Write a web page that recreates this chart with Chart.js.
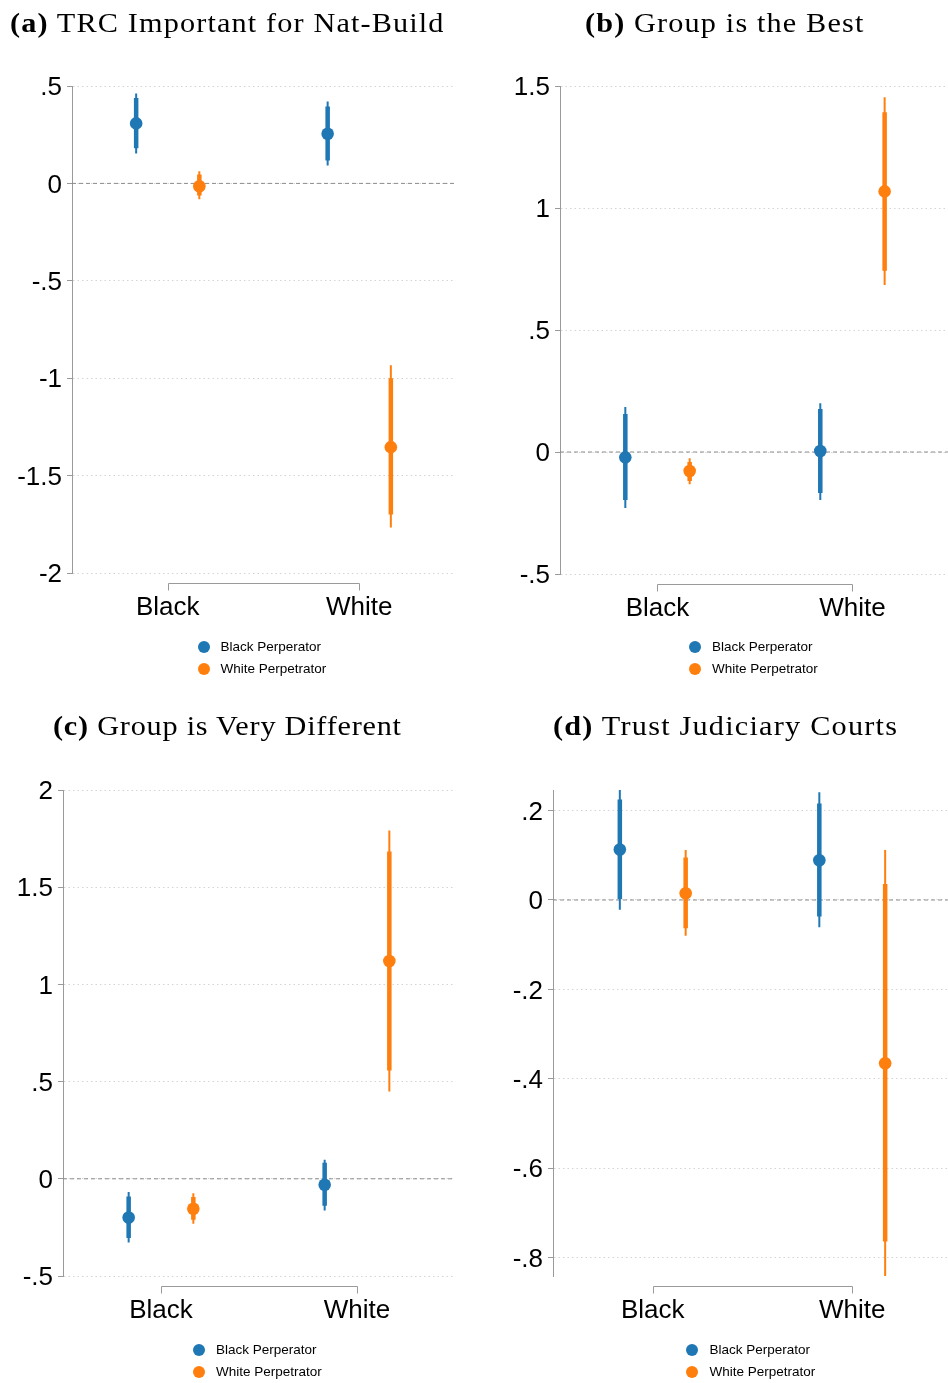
<!DOCTYPE html>
<html>
<head>
<meta charset="utf-8">
<script src="https://cdn.jsdelivr.net/npm/chart.js@4.4.1/dist/chart.umd.min.js"></script>
<style>
  html, body { margin: 0; padding: 0; background: #fff; }
  body { width: 948px; height: 1383px; position: relative; overflow: hidden; }
  canvas { position: absolute; }
  .title { position: absolute; font-family: "Liberation Serif", "Times New Roman", serif; font-size: 28px; line-height: 28px; white-space: nowrap; color: #000; transform-origin: 0 0; }
  .legend { position: absolute; font-family: "Liberation Sans", Arial, sans-serif; font-size: 13.5px; color: #000; }
  .legend div { position: relative; height: 22px; line-height: 22px; padding-left: 23px; white-space: nowrap; }
  .legend span { position: absolute; left: 0; top: 5px; width: 12px; height: 12px; border-radius: 50%; }
</style>
</head>
<body>
<script>
const groups = ['Black', 'White'];
const seriesNames = ['Black Perperator', 'White Perpetrator'];
const seriesColors = ['#1f77b4', '#ff7f0e'];
const panelLetters = ['(a)', '(b)', '(c)', '(d)'];
const panelTitles = ['TRC Important for Nat-Build', 'Group is the Best', 'Group is Very Different', 'Trust Judiciary Courts'];

// point estimates per panel, [Black, White] respondents
const estBlackPerp = [[0.308, 0.255], [-0.022, 0.004], [-0.199, -0.031], [0.113, 0.089]];
const estWhitePerp = [[-0.015, -1.354], [-0.078, 1.068], [-0.154, 1.12], [0.015, -0.365]];

// 90% intervals [lo, hi]
const ci90BlackPerp = [
  [[0.18, 0.438], [0.118, 0.395]],
  [[-0.197, 0.156], [-0.168, 0.176]],
  [[-0.305, -0.091], [-0.139, 0.082]],
  [[0.002, 0.225], [-0.037, 0.216]]
];
const ci90WhitePerp = [
  [[-0.062, 0.046], [-1.70, -1.0]],
  [[-0.119, -0.041], [0.743, 1.392]],
  [[-0.211, -0.093], [0.557, 1.684]],
  [[-0.063, 0.095], [-0.764, 0.036]]
];

// 95% intervals [lo, hi]
const ci95BlackPerp = [
  [[0.154, 0.462], [0.092, 0.421]],
  [[-0.23, 0.184], [-0.197, 0.2]],
  [[-0.328, -0.068], [-0.163, 0.098]],
  [[-0.022, 0.248], [-0.061, 0.241]]
];
const ci95WhitePerp = [
  [[-0.082, 0.063], [-1.767, -0.934]],
  [[-0.132, -0.026], [0.684, 1.454]],
  [[-0.231, -0.074], [0.449, 1.792]],
  [[-0.080, 0.112], [-0.841, 0.112]]
];

const yTicks = [
  [-2, -1.5, -1, -0.5, 0, 0.5],
  [-0.5, 0, 0.5, 1, 1.5],
  [-0.5, 0, 0.5, 1, 1.5, 2],
  [-0.8, -0.6, -0.4, -0.2, 0, 0.2]
];
const yTickLabels = [
  ['-2', '-1.5', '-1', '-.5', '0', '.5'],
  ['-.5', '0', '.5', '1', '1.5'],
  ['-.5', '0', '.5', '1', '1.5', '2'],
  ['-.8', '-.6', '-.4', '-.2', '0', '.2']
];
const yRanges = [[-2, 0.5], [-0.5, 1.5], [-0.5, 2], [-0.841, 0.246]];

// page layout: canvas box, plot area (local coords) and the x value at the right edge
const panels = [
  { left: 0, top: 0, w: 474, h: 691, plot: [72, 86, 455, 573], xMax: 2.5, titleX: 227.5, titleW: 435 },
  { left: 474, top: 0, w: 474, h: 691, plot: [86, 86, 474, 574], xMax: 2.49, titleX: 724.5, titleW: 279 },
  { left: 0, top: 703, w: 474, h: 680, plot: [63, 87, 455, 573], xMax: 2.5, titleX: 227.5, titleW: 349 },
  { left: 474, top: 703, w: 474, h: 680, plot: [79, 87, 474, 573], xMax: 2.48, titleX: 725.5, titleW: 345 }
];
const offset = 0.165;
const axisGray = '#9a9a9a';

const xBracket = {
  id: 'xBracket',
  afterDraw(chart) {
    const { ctx, chartArea, scales } = chart;
    const x1 = Math.round(scales.x.getPixelForValue(1)) + 0.5;
    const x2 = Math.round(scales.x.getPixelForValue(2)) + 0.5;
    const y = Math.round(chartArea.bottom + 10) + 0.5;
    ctx.save();
    ctx.strokeStyle = axisGray;
    ctx.lineWidth = 1;
    ctx.beginPath();
    ctx.moveTo(x1, y + 7);
    ctx.lineTo(x1, y);
    ctx.lineTo(x2, y);
    ctx.lineTo(x2, y + 7);
    ctx.stroke();
    ctx.restore();
  }
};

function ciLine(ci, dx) {
  const pts = [];
  ci.forEach((c, i) => {
    if (i > 0) pts.push({ x: i + 1 + dx, y: null });
    pts.push({ x: i + 1 + dx, y: c[0] });
    pts.push({ x: i + 1 + dx, y: c[1] });
  });
  return pts;
}

function makePanel(p, k) {
  const canvas = document.createElement('canvas');
  canvas.width = p.w;
  canvas.height = p.h;
  canvas.style.left = p.left + 'px';
  canvas.style.top = p.top + 'px';
  document.body.appendChild(canvas);

  const est = [estBlackPerp[k], estWhitePerp[k]];
  const ci90 = [ci90BlackPerp[k], ci90WhitePerp[k]];
  const ci95 = [ci95BlackPerp[k], ci95WhitePerp[k]];
  const shifts = [-offset, offset];
  const datasets = [];
  est.forEach((e, s) => {
    datasets.push({
      label: seriesNames[s],
      data: e.map((v, i) => ({ x: i + 1 + shifts[s], y: v })),
      backgroundColor: seriesColors[s], borderWidth: 0,
      pointRadius: 6.3, showLine: false, order: 0
    });
    datasets.push({
      data: ciLine(ci90[s], shifts[s]), borderColor: seriesColors[s], borderWidth: 4.5,
      borderCapStyle: 'butt', pointRadius: 0, showLine: true, spanGaps: false, order: 1
    });
    datasets.push({
      data: ciLine(ci95[s], shifts[s]), borderColor: seriesColors[s], borderWidth: 2,
      borderCapStyle: 'butt', pointRadius: 0, showLine: true, spanGaps: false, order: 2
    });
  });
  datasets.push({
    data: [{ x: 0.5, y: 0 }, { x: p.xMax, y: 0 }], borderColor: '#8c8c8c', borderWidth: 1,
    borderDash: [4, 3], pointRadius: 0, showLine: true, order: 3
  });

  const [pl, pt, pr, pb] = p.plot;
  const chart = new Chart(canvas, {
    type: 'scatter',
    data: { datasets },
    options: {
      responsive: false, animation: false, events: [],
      layout: { autoPadding: false, padding: { top: pt, left: 0, right: p.w - pr, bottom: 0 } },
      plugins: { legend: { display: false }, tooltip: { enabled: false } },
      scales: {
        x: {
          type: 'linear', min: 0.5, max: p.xMax,
          afterBuildTicks: (s) => { s.ticks = [{ value: 1 }, { value: 2 }]; },
          afterFit: (s) => { s.height = p.h - pb; },
          grid: { display: false, drawTicks: false },
          border: { display: false },
          ticks: {
            autoSkip: false, maxRotation: 0, padding: 19, color: '#000',
            font: { family: '"Liberation Sans", Arial, sans-serif', size: 26 },
            callback: (v, i) => groups[i]
          }
        },
        y: {
          min: yRanges[k][0], max: yRanges[k][1],
          afterBuildTicks: (s) => { s.ticks = yTicks[k].map(v => ({ value: v })); },
          afterFit: (s) => { s.width = pl; },
          grid: { color: '#d4d4d4', lineWidth: 1, tickLength: 5, tickColor: axisGray },
          border: { display: true, color: axisGray, width: 1, dash: [1.5, 3] },
          ticks: {
            autoSkip: false, padding: 5, labelOffset: 2, color: '#000',
            font: { family: '"Liberation Sans", Arial, sans-serif', size: 26 },
            callback: (v, i) => yTickLabels[k][i]
          }
        }
      }
    },
    plugins: [xBracket]
  });

  // title: widen a little, then spread letters to the measured width
  const t = document.createElement('div');
  t.className = 'title';
  t.innerHTML = '<b>' + panelLetters[k] + '</b> ' + panelTitles[k];
  document.body.appendChild(t);
  const w0 = t.offsetWidth;
  const n = t.textContent.length;
  const sx = Math.min(1.08, p.titleW / w0);
  t.style.letterSpacing = Math.max(0, (p.titleW / sx - w0) / n) + 'px';
  t.style.transform = 'scaleX(' + sx + ')';
  t.style.left = (p.titleX - p.titleW / 2) + 'px';
  t.style.top = (p.top + 9) + 'px';

  // legend, centred under the group axis
  const xs = chart.scales.x;
  const mid = (xs.getPixelForValue(0.5) + xs.getPixelForValue(2.5)) / 2;
  const lg = document.createElement('div');
  lg.className = 'legend';
  lg.style.left = (p.left + mid - 66) + 'px';
  lg.style.top = (p.top + 636) + 'px';
  seriesNames.forEach((name, s) => {
    const row = document.createElement('div');
    row.innerHTML = '<span style="background:' + seriesColors[s] + '"></span>' + name;
    lg.appendChild(row);
  });
  document.body.appendChild(lg);
}

panels.forEach(makePanel);
</script>
</body>
</html>
